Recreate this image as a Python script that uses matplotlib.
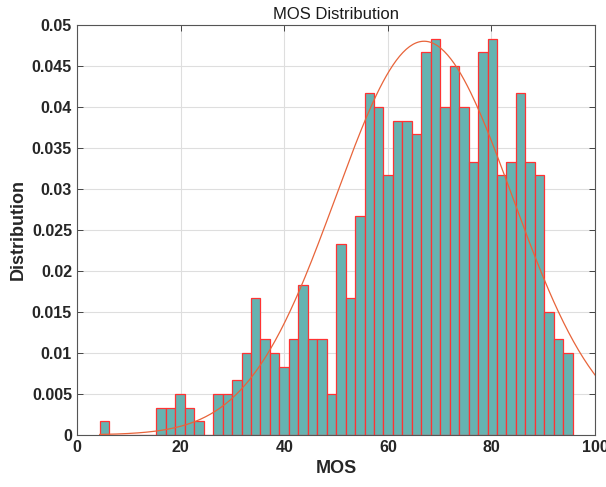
import numpy as np
import matplotlib.pyplot as plt
from matplotlib.ticker import FuncFormatter

# histogram of MOS scores (50 bins), counts per bin
bin_start = 4.38
bin_width = 1.826
counts = [1, 0, 0, 0, 0, 0, 2, 2, 3, 2,
          1, 0, 3, 3, 4, 6, 10, 7, 6, 5,
          7, 11, 7, 7, 3, 14, 10, 16, 25, 24,
          19, 23, 23, 22, 28, 29, 24, 27, 24, 20,
          28, 29, 19, 20, 25, 20, 19, 9, 7, 6]

# fitted normal curve
fit_mean = 67.0
fit_std = 17.0
fit_peak = 0.048
fit_range = (4.38, 100.0)

plt.rcParams['font.family'] = ['Liberation Sans', 'DejaVu Sans']

counts = np.array(counts)
prob = counts / counts.sum()
edges = bin_start + bin_width * np.arange(len(counts))

fig = plt.figure(figsize=(6.06, 4.87), dpi=100)
ax = fig.add_axes([0.127, 0.107, 0.855, 0.842])

ax.bar(edges, prob, width=bin_width, align='edge',
       color='#66b3b1', edgecolor='#ff3333', linewidth=0.9, zorder=2)

xs = np.linspace(fit_range[0], fit_range[1], 300)
ys = fit_peak * np.exp(-0.5 * ((xs - fit_mean) / fit_std) ** 2)
ax.plot(xs, ys, color='#e8643a', linewidth=0.9, zorder=3)

ax.set_xlim(0, 100)
ax.set_ylim(0, 0.05)
ax.set_xticks(np.arange(0, 101, 20))
ax.set_yticks(np.arange(0, 0.0501, 0.005))
ax.yaxis.set_major_formatter(FuncFormatter(lambda v, p: '%g' % round(v, 4)))
ax.grid(True, color='#dedede', linewidth=0.8, zorder=0)
ax.set_axisbelow(True)
ax.tick_params(direction='in', top=True, right=True, length=4, width=0.7,
               color='#444444', labelsize=11.5)
for lab in ax.get_xticklabels() + ax.get_yticklabels():
    lab.set_fontweight('bold')
    lab.set_color('#262626')
for sp in ax.spines.values():
    sp.set_color('#555555')
    sp.set_linewidth(0.8)

ax.set_xlabel('MOS', fontsize=13, fontweight='bold', color='#262626')
ax.set_ylabel('Distribution', fontsize=13, fontweight='bold', color='#262626')
ax.set_title('MOS Distribution', fontsize=12, color='#1a1a1a', pad=4)

plt.savefig('out.png')
